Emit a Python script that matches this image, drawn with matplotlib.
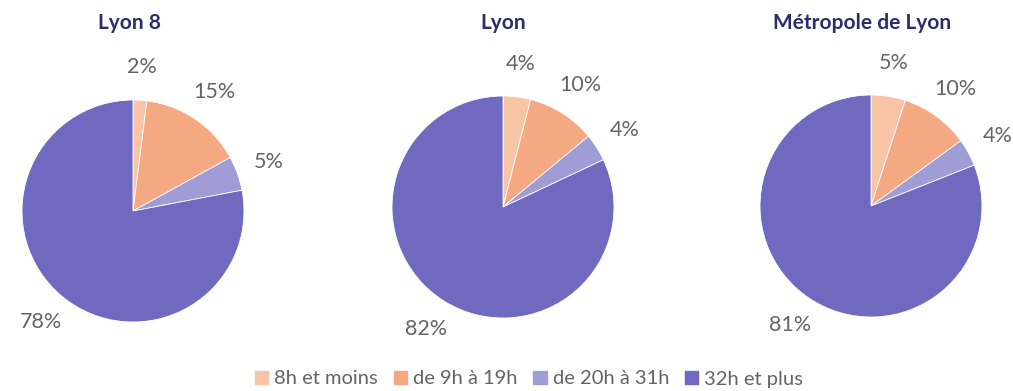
import numpy as np
import matplotlib.pyplot as plt
from matplotlib.patches import Patch

plt.rcParams['font.family'] = ['Lato', 'DejaVu Sans']

territoires = ['Lyon 8', 'Lyon', 'Métropole de Lyon']
categories = ['8h et moins', 'de 9h à 19h', 'de 20h à 31h', '32h et plus']
lyon8 = [2, 15, 5, 78]
lyon = [4, 10, 4, 82]
metropole = [5, 10, 4, 81]
couleurs = ['#f8c4a6', '#f5a982', '#a09cd5', '#6f69bf']

W, H = 1013, 391
fig = plt.figure(figsize=(W / 100, H / 100), dpi=100)

centres = [(133, 211), (503, 207), (871, 206)]
rayon = 111
titre_x = [130, 503, 862]

for nom, vals, (cx, cy), tx in zip(territoires, [lyon8, lyon, metropole], centres, titre_x):
    demi = 1.25 * rayon
    ax = fig.add_axes([(cx - demi) / W, (H - cy - demi) / H, 2 * demi / W, 2 * demi / H])
    wedges, textes = ax.pie(vals, colors=couleurs, startangle=90, counterclock=False,
                            labels=[f'{v}%' for v in vals], labeldistance=1.3,
                            wedgeprops=dict(linewidth=0.6, edgecolor='white'),
                            textprops=dict(fontsize=15.5, color='#646464'))
    for t in textes:
        t.set_ha('center')
        t.set_va('center')
    ax.set_xlim(-1.25, 1.25)
    ax.set_ylim(-1.25, 1.25)
    ax.set_aspect('equal')
    fig.text(tx / W, 1 - 23 / H, nom, ha='center', va='center',
             fontsize=15, fontweight='bold', color='#2e2b6b')

handles = [Patch(color=c) for c in couleurs]
leg = fig.legend(handles, categories, loc='center', bbox_to_anchor=(529 / W, 1 - 379 / H),
                 ncol=4, frameon=False, handlelength=0.65, handleheight=0.65,
                 handletextpad=0.3, columnspacing=0.8, labelcolor='#646464',
                 prop=dict(family=['Lato', 'DejaVu Sans'], size=14.5))

fig.savefig('out.png', dpi=100)
